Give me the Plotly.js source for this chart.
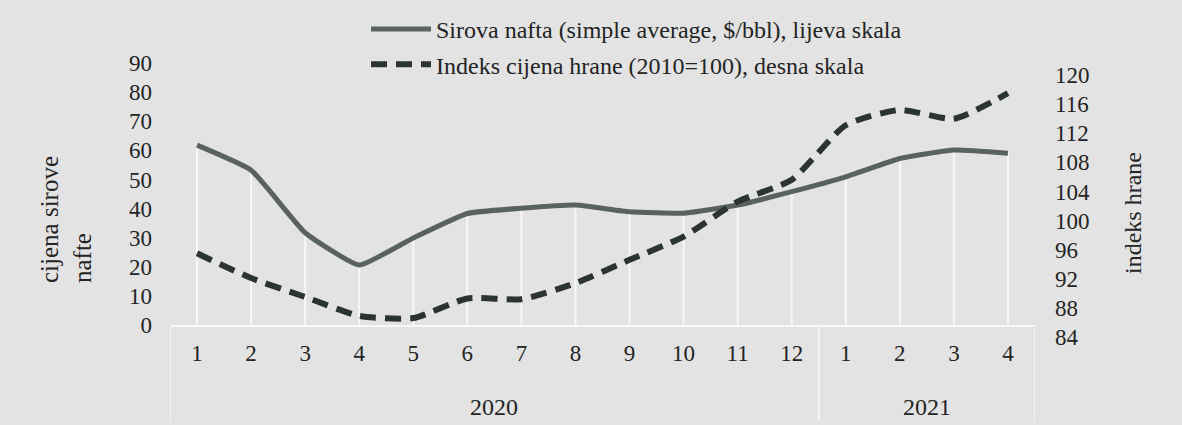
<!DOCTYPE html>
<html>
<head>
<meta charset="utf-8">
<script src="https://cdn.plot.ly/plotly-3.0.1.min.js"></script>
<style>html,body{margin:0;padding:0;background:#e3e3e3;}</style>
</head>
<body>
<div id="chart" style="width:1182px;height:425px;"></div>
<script>
// ---- data ----
const years  = ['2020','2020','2020','2020','2020','2020','2020','2020','2020','2020','2020','2020','2021','2021','2021','2021'];
const months = ['1','2','3','4','5','6','7','8','9','10','11','12','1','2','3','4'];
const yearLabels = ['2020', '2021'];
const oilPrice  = [61.8, 53.2, 31.7, 20.6, 29.9, 38.3, 40.1, 41.2, 38.9, 38.4, 41.2, 45.8, 50.9, 57.2, 60.1, 59.0];
const foodIndex = [95.5, 92.1, 89.5, 86.9, 86.6, 89.3, 89.2, 91.4, 94.6, 97.8, 102.6, 105.6, 113.1, 115.2, 114.0, 117.5];
const oilName  = 'Sirova nafta (simple average, $/bbl), lijeva skala';
const foodName = 'Indeks cijena hrane (2010=100), desna skala';

// category positions (one slot per month)
const idx = months.map((m, i) => i);

// drop lines built from the oil series
const dropX = [], dropY = [];
oilPrice.forEach((v, i) => { dropX.push(i, i, i); dropY.push(0, v, null); });

// year groups: first/last index of each year
const groups = yearLabels.map(yr => {
  const first = years.indexOf(yr), last = years.lastIndexOf(yr);
  return {yr, first, last};
});

const FONT = 'Liberation Serif, Times New Roman, serif';
const FS = 24;
const TXT = '#242424';
const W = 1182, H = 425;
const px = x => x / W, py = y => 1 - y / H;

const traces = [
  {
    x: dropX, y: dropY, type: 'scatter', mode: 'lines',
    line: {color: '#f7f7f7', width: 2}, showlegend: false, hoverinfo: 'skip',
    connectgaps: false, xaxis: 'x', yaxis: 'y'
  },
  {
    x: idx, y: oilPrice, type: 'scatter', mode: 'lines', name: oilName,
    line: {color: '#5a6161', width: 5, shape: 'spline', smoothing: 0.4},
    xaxis: 'x', yaxis: 'y', legendgroup: 'a'
  },
  {
    x: idx, y: foodIndex, type: 'scatter', mode: 'lines', name: foodName,
    line: {color: '#2c3333', width: 6, dash: '16px,9px', shape: 'spline', smoothing: 0.6},
    xaxis: 'x', yaxis: 'y2', legendgroup: 'b'
  }
];

// category-box separators and year labels
const shapes = [];
const annotations = [];
groups.forEach((g, k) => {
  if (k === 0) {
    shapes.push({type: 'line', xref: 'x', yref: 'paper', x0: g.first - 0.5, x1: g.first - 0.5,
      y0: py(325), y1: py(421), line: {color: '#f4f4f4', width: 2}});
  }
  shapes.push({type: 'line', xref: 'x', yref: 'paper', x0: g.last + 0.5, x1: g.last + 0.5,
    y0: py(325), y1: py(421), line: {color: '#f4f4f4', width: 2}});
  annotations.push({text: g.yr, xref: 'x', yref: 'paper', x: (g.first + g.last) / 2, y: py(407),
    xanchor: 'center', yanchor: 'middle', showarrow: false, font: {family: FONT, size: FS, color: TXT}});
});
annotations.push(
  {
    text: 'cijena sirove<br>nafte', xref: 'paper', yref: 'paper',
    x: px(66), y: py(220), xanchor: 'center', yanchor: 'middle',
    textangle: -90, align: 'left', showarrow: false,
    font: {family: FONT, size: 25, color: TXT}
  },
  {
    text: 'indeks hrane', xref: 'paper', yref: 'paper',
    x: px(1133), y: py(213), xanchor: 'center', yanchor: 'middle',
    textangle: -90, showarrow: false,
    font: {family: FONT, size: FS, color: TXT}
  }
);

const layout = {
  width: W, height: H,
  margin: {l: 0, r: 0, t: 0, b: 0},
  paper_bgcolor: '#e3e3e3',
  plot_bgcolor: 'rgba(0,0,0,0)',
  font: {family: FONT, size: FS, color: TXT},
  showlegend: true,
  legend: {
    x: px(366), y: py(7), xanchor: 'left', yanchor: 'top',
    bgcolor: 'rgba(0,0,0,0)', font: {family: FONT, size: FS, color: TXT},
    tracegroupgap: 1, itemwidth: 60
  },
  xaxis: {
    domain: [px(170), px(1035)],
    range: [-0.5, months.length - 0.5],
    anchor: 'y',
    tickmode: 'array', tickvals: idx, ticktext: months,
    showgrid: false, zeroline: false,
    showline: true, linecolor: '#f7f7f7', linewidth: 2,
    ticks: '', ticklabelstandoff: 6,
    tickfont: {family: FONT, size: 23, color: TXT}
  },
  yaxis: {
    domain: [py(325), py(63)],
    range: [0, 90], dtick: 10,
    showgrid: false, zeroline: false, showline: false, ticks: '',
    ticklabelstandoff: 17,
    tickfont: {family: FONT, size: 23, color: TXT}
  },
  yaxis2: {
    domain: [py(337), py(75)],
    range: [84, 120], dtick: 4,
    side: 'right', anchor: 'free', position: px(1040),
    showgrid: false, zeroline: false, showline: false, ticks: '',
    ticklabelstandoff: 14,
    tickfont: {family: FONT, size: 23, color: TXT}
  },
  shapes: shapes,
  annotations: annotations
};

Plotly.newPlot('chart', traces, layout, {displayModeBar: false, staticPlot: true});
</script>
</body>
</html>
